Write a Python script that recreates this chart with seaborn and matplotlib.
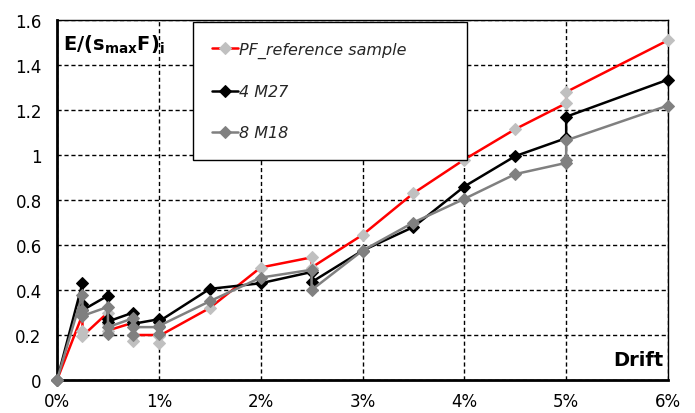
import matplotlib
matplotlib.use("Agg")
import matplotlib.pyplot as plt
import seaborn as sns
import numpy as np

# ---- data ----
drift_ref = [0, .25, .25, .25, .5, .5, .5, .75, .75, .75, 1, 1, 1, 1.5, 2, 2.5, 2.5, 3, 3.5, 4, 4.5, 5, 5, 6]
e_ref = [0, 0.29, 0.22, 0.195, 0.30, 0.25, 0.22, 0.255, 0.175, 0.20, 0.20, 0.165, 0.195,
         0.32, 0.50, 0.545, 0.50, 0.645, 0.83, 0.98, 1.115, 1.23, 1.28, 1.51]

drift_m27 = [0, .25, .25, .25, .5, .5, .5, .75, .75, .75, 1, 1, 1, 1.5, 2, 2.5, 2.5, 3, 3.5, 4, 4.5, 5, 5, 6]
e_m27 = [0, 0.43, 0.34, 0.31, 0.375, 0.27, 0.26, 0.30, 0.26, 0.25, 0.27, 0.265, 0.26,
         0.405, 0.43, 0.48, 0.435, 0.575, 0.68, 0.86, 0.995, 1.075, 1.17, 1.335]

drift_m18 = [0, .25, .25, .25, .5, .5, .5, .75, .75, .75, 1, 1, 1, 1.5, 2, 2.5, 2.5, 3, 3.5, 4, 4.5, 5, 5, 5, 6]
e_m18 = [0, 0.38, 0.31, 0.285, 0.325, 0.205, 0.235, 0.275, 0.20, 0.235, 0.235, 0.205, 0.24,
         0.35, 0.455, 0.49, 0.40, 0.575, 0.70, 0.805, 0.915, 0.965, 0.98, 1.065, 1.22]

series_labels = ["PF_reference sample", "4 M27", "8 M18"]
x_ticks = [0, 1, 2, 3, 4, 5, 6]
x_ticklabels = ["0%", "1%", "2%", "3%", "4%", "5%", "6%"]
y_ticks = [0, 0.2, 0.4, 0.6, 0.8, 1.0, 1.2, 1.4, 1.6]
y_ticklabels = ["0", "0.2", "0.4", "0.6", "0.8", "1", "1.2", "1.4", "1.6"]

# ---- style ----
sns.set_style("white")
plt.rcParams["font.family"] = ["DejaVu Sans"]
plt.rcParams["mathtext.fontset"] = "dejavusans"

fig = plt.figure(figsize=(6.95, 4.14), dpi=100)
ax = fig.add_axes([57 / 695, 1 - 381 / 414, 611 / 695, 360 / 414])

common = dict(sort=False, estimator=None, marker="D", markersize=6.5, linewidth=1.8,
              ax=ax, clip_on=False)
sns.lineplot(x=drift_ref, y=e_ref, color="#ff0000", markerfacecolor="#c0c0c0",
             markeredgecolor="#c0c0c0", label=series_labels[0], zorder=3, **common)
sns.lineplot(x=drift_m27, y=e_m27, color="#000000", markerfacecolor="#000000",
             markeredgecolor="#000000", label=series_labels[1], zorder=4, **common)
sns.lineplot(x=drift_m18, y=e_m18, color="#808080", markerfacecolor="#808080",
             markeredgecolor="#808080", label=series_labels[2], zorder=5, **common)

ax.set_xlim(0, 6)
ax.set_ylim(0, 1.6)
ax.set_xticks(x_ticks)
ax.set_xticklabels(x_ticklabels, fontsize=12)
ax.set_yticks(y_ticks)
ax.set_yticklabels(y_ticklabels, fontsize=12)
ax.set_xlabel("")
ax.set_ylabel("")
ax.tick_params(axis="both", direction="out", length=5, width=1, color="black",
               labelcolor="black", pad=6)
ax.tick_params(axis="x", pad=4)

ax.grid(True, color="black", linestyle=(0, (3, 2)), linewidth=1)
for s in ["left", "bottom"]:
    ax.spines[s].set_linewidth(2)
    ax.spines[s].set_color("black")
for s in ["top", "right"]:
    ax.spines[s].set_linewidth(1)
    ax.spines[s].set_color("black")
ax.set_axisbelow(True)

ax.text(0.01, 0.935, r"$\mathbf{E/(s_{max}F)_{i}}$", transform=ax.transAxes,
        fontsize=14, ha="left", va="center", color="black")
ax.text(0.993, 0.03, "Drift", transform=ax.transAxes, fontsize=14,
        fontweight="bold", ha="right", va="bottom", color="black")

leg = ax.legend(loc="upper left", bbox_to_anchor=((193 - 57) / 611, (381 - 27) / 360, 274 / 611, 0.01),
                mode="expand", borderaxespad=0, frameon=True, fancybox=False,
                prop={"style": "italic", "size": 11.5}, handlelength=1.6,
                handletextpad=0.1, labelspacing=1.65, borderpad=1.2)
leg.get_frame().set_edgecolor("black")
leg.get_frame().set_linewidth(1)
leg.get_frame().set_facecolor("white")
leg.get_frame().set_alpha(1)
leg.set_zorder(10)
for line in leg.get_lines():
    line.set_markersize(6)

fig.savefig("out.png", dpi=100)
